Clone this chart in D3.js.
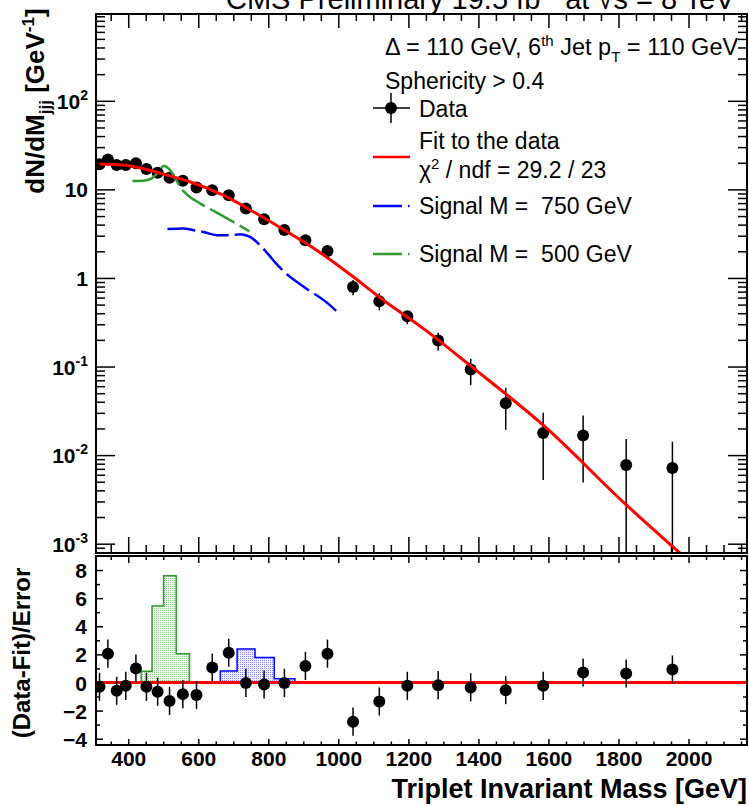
<!DOCTYPE html>
<html>
<head>
<meta charset="utf-8">
<script src="https://cdnjs.cloudflare.com/ajax/libs/d3/7.8.5/d3.min.js"></script>
<style>
  body { margin: 0; background: #fff; }
  svg { display: block; font-family: 'Liberation Sans', Arial, Helvetica, sans-serif; }
  .tick line { stroke: #000; stroke-width: 1.5; }
  .domain { display: none; }
</style>
</head>
<body>
<svg id="chart" width="749" height="806"></svg>
<script>
// bin centres of the triplet mass spectrum (GeV)
const massCenters = [318, 342, 367, 393, 422, 452, 484, 518, 556, 595, 640, 687, 736, 788, 846,
  906, 969, 1042, 1117, 1197, 1285, 1378, 1478, 1585, 1699, 1822, 1954];
// dN/dM per bin, with lower / upper ends of the error bars (null = below axis)
const dataValues = [19.2, 21.8, 18.8, 18.8, 19.7, 17.0, 15.4, 13.5, 12.5, 10.5, 9.8, 8.6, 6.1, 4.6, 3.47,
  2.67, 2.02, 0.79, 0.545, 0.369, 0.197, 0.0927, 0.0385, 0.0178, 0.0166, 0.00774, 0.00716];
const dataLow = [18.5, 21.0, 18.1, 18.1, 18.9, 16.3, 14.7, 12.9, 11.9, 9.9, 9.2, 8.0, 5.6, 4.2, 3.1,
  2.35, 1.72, 0.64, 0.43, 0.30, 0.152, 0.0617, 0.0193, 0.00524, 0.00492, null, null];
const dataHigh = [19.9, 22.6, 19.5, 19.5, 20.5, 17.7, 16.1, 14.1, 13.1, 11.1, 10.4, 9.2, 6.6, 5.0, 3.85,
  3.0, 2.35, 0.95, 0.67, 0.41, 0.241, 0.1225, 0.0575, 0.030, 0.028, 0.0152, 0.0142];
// (data - fit) / error per bin
const pullValues = [-0.31, 2.05, -0.59, -0.24, 0.99, -0.31, -0.66, -1.32, -0.83, -0.90, 1.06, 2.12, -0.03,
  -0.14, -0.03, 1.18, 2.05, -2.79, -1.35, -0.24, -0.19, -0.35, -0.55, -0.24, 0.71, 0.64, 0.92];
const pullError = 1;

// fit curve
const fitMass = [318, 386, 453, 510, 576, 671, 757, 843, 938, 1033, 1129, 1243, 1376, 1586, 1819, 1976];
const fitValue = [19.3, 18.8, 16.8, 14.5, 12.2, 8.6, 5.6, 3.53, 2.06, 1.10, 0.56, 0.268, 0.103, 0.0216, 0.00282, 0.00078];
const fitPullRange = [318, 2167];

// signal shapes
const sig750Mass = [512, 557, 595, 614, 652, 695, 719, 748, 781, 810, 824, 862, 886, 902, 971, 995];
const sig750Value = [3.56, 3.62, 3.40, 3.31, 3.04, 3.04, 3.12, 2.91, 2.24, 1.66, 1.43, 1.03, 0.877, 0.79, 0.513, 0.42];
const sig500Mass = [412, 443, 467, 486, 502, 519, 536, 550, 567, 605, 648, 746];
const sig500Value = [12.4, 12.5, 13.3, 15.8, 18.4, 16.6, 13.0, 10.4, 8.8, 6.95, 5.6, 3.37];

// signal contributions in the pull panel (bin edges + heights)
const sig500Edges = [437, 468, 501, 537, 575];
const sig500Pull = [0.8, 5.45, 7.6, 2.05];
const sig750Edges = [663, 711, 762, 817, 876];
const sig750Pull = [0.82, 2.38, 1.77, 0.27];

const xTickValues = [400, 600, 800, 1000, 1200, 1400, 1600, 1800, 2000];
const pullTickValues = [-4, -2, 0, 2, 4, 6, 8];

const colors = { fit: '#ff0000', sig750: '#0000ff', sig500: '#2f9a2f' };

const svg = d3.select('#chart');
const fr = { left: 96, right: 747, top: 14, mainBottom: 553, pullTop: 556, pullBottom: 745 };

const x = d3.scaleLinear().domain([308, 2167]).range([fr.left, fr.right]);
const y = d3.scaleLog().domain([7.85e-4, 955]).range([fr.mainBottom, fr.top]);
const yPull = d3.scaleLinear().domain([-4.45, 9]).range([fr.pullBottom, fr.pullTop]);

const xMinor = d3.range(350, 2167, 50).filter((v) => v % 200 !== 0);
const yAll = y.ticks();
const isDecade = (v) => Math.abs(Math.log10(v) - Math.round(Math.log10(v))) < 1e-9;
const yMajor = yAll.filter(isDecade);
const yMinor = yAll.filter((v) => !isDecade(v));
const pullMinor = [-3, -1, 1, 3, 5, 7];

// patterns for the stippled histograms
const defs = svg.append('defs');
function stipple(id, fg, bg) {
  const p = defs.append('pattern').attr('id', id).attr('width', 2).attr('height', 2)
    .attr('patternUnits', 'userSpaceOnUse');
  p.append('rect').attr('width', 2).attr('height', 2).attr('fill', bg);
  p.append('rect').attr('width', 1).attr('height', 1).attr('fill', fg);
}
stipple('dots500', '#8cc98c', '#f1f8f1');
stipple('dots750', '#8c8cff', '#f0f0ff');

defs.append('clipPath').attr('id', 'clipMain').append('rect')
  .attr('x', fr.left).attr('y', fr.top).attr('width', fr.right - fr.left).attr('height', fr.mainBottom - fr.top);
defs.append('clipPath').attr('id', 'clipPull').append('rect')
  .attr('x', fr.left).attr('y', fr.pullTop).attr('width', fr.right - fr.left).attr('height', fr.pullBottom - fr.pullTop);

// ---------- axes ----------
function ticksX(yPos, values, size, top) {
  const ax = (top ? d3.axisTop(x) : d3.axisBottom(x)).tickValues(values).tickSizeInner(-size).tickSizeOuter(0).tickFormat('');
  svg.append('g').attr('transform', `translate(0,${yPos})`).call(ax);
}
ticksX(fr.mainBottom, xTickValues, 16, false);
ticksX(fr.mainBottom, xMinor, 8, false);
ticksX(fr.top, xTickValues, 14, true);
ticksX(fr.top, xMinor, 7, true);
ticksX(fr.pullTop, xTickValues, 7, true);
ticksX(fr.pullTop, xMinor, 4, true);
ticksX(fr.pullBottom, xTickValues, 6, false);
ticksX(fr.pullBottom, xMinor, 3.5, false);

function ticksY(scale, xPos, values, size, right) {
  const ax = (right ? d3.axisRight(scale) : d3.axisLeft(scale)).tickValues(values).tickSizeInner(-size).tickSizeOuter(0).tickFormat('');
  svg.append('g').attr('transform', `translate(${xPos},0)`).call(ax);
}
ticksY(y, fr.left, yMajor, 19, false);
ticksY(y, fr.left, yMinor, 9, false);
ticksY(y, fr.right, yMajor, 19, true);
ticksY(y, fr.right, yMinor, 9, true);
ticksY(yPull, fr.left, pullTickValues, 7, false);
ticksY(yPull, fr.left, pullMinor, 4, false);
ticksY(yPull, fr.right, pullTickValues, 7, true);
ticksY(yPull, fr.right, pullMinor, 4, true);

// tick labels
svg.append('g').attr('transform', `translate(0,${fr.pullBottom})`)
  .call(d3.axisBottom(x).tickValues(xTickValues).tickSize(0).tickPadding(6).tickFormat(d3.format('d')))
  .call((g) => g.selectAll('.tick text').attr('font-size', 21).attr('font-weight', 'bold')
    .attr('font-family', null).attr('fill', '#000'));

svg.append('g').attr('transform', `translate(${fr.left},0)`)
  .call(d3.axisLeft(yPull).tickValues(pullTickValues).tickSize(0).tickPadding(9))
  .call((g) => g.selectAll('.tick text').attr('font-size', 21).attr('font-weight', 'bold')
    .attr('font-family', null).attr('fill', '#000').attr('dy', '0.36em'));

svg.append('g').attr('transform', `translate(${fr.left},0)`)
  .call(d3.axisLeft(y).tickValues(yMajor).tickSize(0).tickPadding(8).tickFormat(''))
  .call((g) => g.selectAll('.tick text')
    .attr('font-size', 21).attr('font-weight', 'bold').attr('font-family', null).attr('fill', '#000')
    .attr('dy', '0.36em')
    .each(function (d) {
      const e = Math.round(Math.log10(d));
      const t = d3.select(this);
      if (e === 0) { t.text('1'); return; }
      if (e === 1) { t.text('10'); return; }
      t.append('tspan').text('10');
      t.append('tspan').attr('dy', -9).attr('font-size', 14).text(e);
    }));

// ---------- main panel ----------
const main = svg.append('g').attr('clip-path', 'url(#clipMain)');

main.selectAll('line.err').data(massCenters).join('line')
  .attr('class', 'err')
  .attr('x1', (d) => x(d)).attr('x2', (d) => x(d))
  .attr('y1', (d, i) => y(dataHigh[i]))
  .attr('y2', (d, i) => (dataLow[i] === null ? fr.mainBottom : y(dataLow[i])))
  .attr('stroke', '#000').attr('stroke-width', 1.5);
main.selectAll('circle.pt').data(massCenters).join('circle')
  .attr('class', 'pt')
  .attr('cx', (d) => x(d)).attr('cy', (d, i) => y(dataValues[i])).attr('r', 6).attr('fill', '#000');

const curve = (ms, vs) => d3.line().curve(d3.curveMonotoneX)
  .x((d) => x(d)).y((d, i) => y(vs[i]))(ms);

main.append('path').attr('d', curve(sig500Mass, sig500Value)).attr('fill', 'none')
  .attr('stroke', colors.sig500).attr('stroke-width', 2.5).attr('stroke-dasharray', '28,6');
main.append('path').attr('d', curve(sig750Mass, sig750Value)).attr('fill', 'none')
  .attr('stroke', colors.sig750).attr('stroke-width', 2.5).attr('stroke-dasharray', '28,6');
main.append('path').attr('d', curve(fitMass, fitValue)).attr('fill', 'none')
  .attr('stroke', colors.fit).attr('stroke-width', 3);

// ---------- pull panel ----------
const pull = svg.append('g').attr('clip-path', 'url(#clipPull)');

function histPoints(edges, vals) {
  const pts = [[edges[0], 0]];
  vals.forEach((v, i) => { pts.push([edges[i], v]); pts.push([edges[i + 1], v]); });
  pts.push([edges[edges.length - 1], 0]);
  return pts;
}
const histLine = d3.line().x((d) => x(d[0])).y((d) => yPull(d[1]));
pull.append('path').attr('d', histLine(histPoints(sig500Edges, sig500Pull)))
  .attr('fill', 'url(#dots500)').attr('stroke', colors.sig500).attr('stroke-width', 1.5);
pull.append('path').attr('d', histLine(histPoints(sig750Edges, sig750Pull)))
  .attr('fill', 'url(#dots750)').attr('stroke', colors.sig750).attr('stroke-width', 1.5);

pull.append('line')
  .attr('x1', x(fitPullRange[0])).attr('x2', x(fitPullRange[1]))
  .attr('y1', yPull(0)).attr('y2', yPull(0))
  .attr('stroke', colors.fit).attr('stroke-width', 3);

pull.selectAll('line.perr').data(massCenters).join('line')
  .attr('class', 'perr')
  .attr('x1', (d) => x(d)).attr('x2', (d) => x(d))
  .attr('y1', (d, i) => yPull(pullValues[i] + pullError))
  .attr('y2', (d, i) => yPull(pullValues[i] - pullError))
  .attr('stroke', '#000').attr('stroke-width', 1.5);
pull.selectAll('circle.ppt').data(massCenters).join('circle')
  .attr('class', 'ppt')
  .attr('cx', (d) => x(d)).attr('cy', (d, i) => yPull(pullValues[i])).attr('r', 6).attr('fill', '#000');

// frames
svg.append('rect').attr('x', fr.left).attr('y', fr.top)
  .attr('width', fr.right - fr.left).attr('height', fr.mainBottom - fr.top)
  .attr('fill', 'none').attr('stroke', '#000').attr('stroke-width', 2);
svg.append('rect').attr('x', fr.left).attr('y', fr.pullTop)
  .attr('width', fr.right - fr.left).attr('height', fr.pullBottom - fr.pullTop)
  .attr('fill', 'none').attr('stroke', '#000').attr('stroke-width', 2);

// ---------- texts ----------
// the title sits above the canvas edge, as in the original export
const title = svg.append('text').attr('x', 226).attr('y', 9).attr('font-size', 29);
title.append('tspan').text('CMS Preliminary 19.5 fb');
title.append('tspan').attr('dy', -11).attr('font-size', 19).text('-1');
title.append('tspan').attr('dy', 11).text(' at \u221As = 8 TeV');

const hdr = svg.append('text').attr('x', 385).attr('y', 55).attr('font-size', 23.5);
hdr.append('tspan').text('\u0394 = 110 GeV, 6');
hdr.append('tspan').attr('dy', -9).attr('font-size', 15).text('th');
hdr.append('tspan').attr('dy', 9).text(' Jet p');
hdr.append('tspan').attr('dy', 7).attr('font-size', 15).text('T');
hdr.append('tspan').attr('dy', -7).text(' = 110 GeV');

svg.append('text').attr('x', 385).attr('y', 89).attr('font-size', 23).text('Sphericity > 0.4');

// legend
const lg = svg.append('g');
lg.append('line').attr('x1', 373).attr('x2', 410).attr('y1', 108).attr('y2', 108).attr('stroke', '#000').attr('stroke-width', 1.5);
lg.append('line').attr('x1', 391).attr('x2', 391).attr('y1', 93).attr('y2', 123).attr('stroke', '#000').attr('stroke-width', 1.5);
lg.append('circle').attr('cx', 391).attr('cy', 108).attr('r', 6).attr('fill', '#000');
lg.append('text').attr('x', 419).attr('y', 117).attr('font-size', 23).text('Data');

lg.append('line').attr('x1', 373).attr('x2', 410).attr('y1', 157).attr('y2', 157).attr('stroke', colors.fit).attr('stroke-width', 2.5);
lg.append('text').attr('x', 419).attr('y', 149).attr('font-size', 23).text('Fit to the data');
const chi = lg.append('text').attr('x', 419).attr('y', 178).attr('font-size', 23);
chi.append('tspan').text('\u03C7');
chi.append('tspan').attr('dy', -9).attr('font-size', 15).text('2');
chi.append('tspan').attr('dy', 9).text(' / ndf = 29.2 / 23');

lg.append('line').attr('x1', 373).attr('x2', 411).attr('y1', 206).attr('y2', 206).attr('stroke', colors.sig750)
  .attr('stroke-width', 2.5).attr('stroke-dasharray', '29,6,1.5,6');
lg.append('text').attr('x', 419).attr('y', 214).attr('font-size', 23).style('white-space', 'pre').text('Signal M =  750 GeV');
lg.append('line').attr('x1', 373).attr('x2', 411).attr('y1', 254).attr('y2', 254).attr('stroke', colors.sig500)
  .attr('stroke-width', 2.5).attr('stroke-dasharray', '29,6,1.5,6');
lg.append('text').attr('x', 419).attr('y', 262).attr('font-size', 23).style('white-space', 'pre').text('Signal M =  500 GeV');

// axis titles
const yt = svg.append('text').attr('transform', 'translate(44,101) rotate(-90)')
  .attr('text-anchor', 'middle').attr('font-size', 26).attr('font-weight', 'bold');
yt.append('tspan').text('dN/dM');
yt.append('tspan').attr('dy', 7).attr('font-size', 17).text('jjj');
yt.append('tspan').attr('dy', -7).text(' [GeV');
yt.append('tspan').attr('dy', -10).attr('font-size', 17).text('-1');
yt.append('tspan').attr('dy', 10).text(']');

svg.append('text').attr('transform', 'translate(30,653) rotate(-90)')
  .attr('text-anchor', 'middle').attr('font-size', 24).attr('font-weight', 'bold').text('(Data-Fit)/Error');

svg.append('text').attr('x', 747).attr('y', 798).attr('text-anchor', 'end')
  .attr('font-size', 27).attr('font-weight', 'bold').text('Triplet Invariant Mass [GeV]');
</script>
</body>
</html>
